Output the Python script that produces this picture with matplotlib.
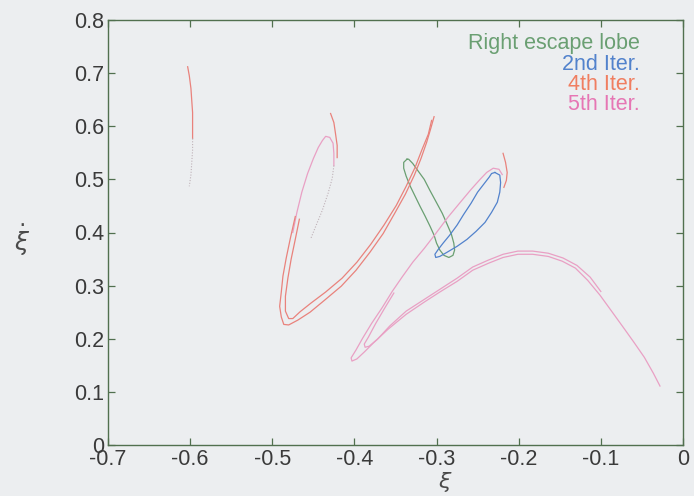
import matplotlib
matplotlib.use("Agg")
import matplotlib.pyplot as plt

# ---------------- data (xi, xi_dot) ----------------
# right escape lobe (closed loop)
lobe_x = [-0.336, -0.340, -0.340, -0.337, -0.332, -0.326, -0.320, -0.314, -0.308,
          -0.303, -0.300, -0.296, -0.291, -0.285, -0.280, -0.278, -0.279, -0.282,
          -0.287, -0.293, -0.301, -0.308, -0.315, -0.323, -0.329, -0.334, -0.336]
lobe_y = [0.538, 0.532, 0.521, 0.506, 0.487, 0.468, 0.449, 0.431, 0.412,
          0.395, 0.380, 0.367, 0.357, 0.353, 0.357, 0.367, 0.380, 0.397,
          0.415, 0.436, 0.459, 0.479, 0.500, 0.517, 0.530, 0.538, 0.538]

# 2nd iterate (closed loop)
iter2_x = [-0.229, -0.223, -0.222, -0.223, -0.226, -0.233, -0.241, -0.252, -0.263,
           -0.275, -0.287, -0.296, -0.301, -0.302, -0.298, -0.292, -0.284, -0.275,
           -0.267, -0.258, -0.250, -0.242, -0.236, -0.233, -0.229]
iter2_y = [0.513, 0.508, 0.494, 0.476, 0.457, 0.438, 0.419, 0.402, 0.387,
           0.374, 0.363, 0.355, 0.353, 0.359, 0.368, 0.380, 0.395, 0.414,
           0.434, 0.455, 0.476, 0.492, 0.504, 0.511, 0.513]

# 4th iterate pieces
iter4_far_x = [-0.603, -0.601, -0.599, -0.598, -0.597, -0.597, -0.597]
iter4_far_y = [0.712, 0.695, 0.671, 0.648, 0.626, 0.602, 0.577]
iter4_far_tail_x = [-0.597, -0.597, -0.598, -0.599, -0.601]
iter4_far_tail_y = [0.577, 0.555, 0.532, 0.509, 0.487]

iter4_outer_x = [-0.303, -0.307, -0.312, -0.319, -0.327, -0.338, -0.351, -0.365, -0.381,
                 -0.398, -0.416, -0.436, -0.454, -0.469, -0.480, -0.486, -0.489, -0.491,
                 -0.489, -0.487, -0.483, -0.478, -0.472]
iter4_outer_y = [0.618, 0.596, 0.570, 0.539, 0.508, 0.472, 0.436, 0.398, 0.363,
                 0.329, 0.299, 0.273, 0.250, 0.235, 0.226, 0.227, 0.241, 0.261,
                 0.288, 0.318, 0.352, 0.389, 0.430]

iter4_inner_x = [-0.306, -0.310, -0.318, -0.326, -0.337, -0.349, -0.364, -0.380, -0.397,
                 -0.415, -0.435, -0.453, -0.466, -0.475, -0.480, -0.484, -0.484, -0.481,
                 -0.477, -0.472, -0.467]
iter4_inner_y = [0.611, 0.585, 0.555, 0.523, 0.487, 0.451, 0.414, 0.378, 0.344,
                 0.314, 0.288, 0.267, 0.251, 0.238, 0.238, 0.252, 0.280, 0.314,
                 0.350, 0.387, 0.425]

iter4_hook_x = [-0.429, -0.425, -0.423, -0.421, -0.421]
iter4_hook_y = [0.624, 0.607, 0.586, 0.564, 0.541]

iter4_tip_x = [-0.219, -0.216, -0.214, -0.215, -0.218]
iter4_tip_y = [0.549, 0.532, 0.513, 0.498, 0.485]

# 5th iterate pieces
iter5_loop_x = [-0.475, -0.470, -0.464, -0.457, -0.450, -0.444, -0.439, -0.435,
                -0.430, -0.426, -0.425, -0.425]
iter5_loop_y = [0.400, 0.438, 0.476, 0.511, 0.539, 0.560, 0.573, 0.581,
                0.579, 0.568, 0.549, 0.526]
iter5_loop_tail_x = [-0.425, -0.427, -0.432, -0.439, -0.447, -0.453]
iter5_loop_tail_y = [0.526, 0.502, 0.474, 0.442, 0.412, 0.389]

iter5_outer_x = [-0.220, -0.224, -0.231, -0.239, -0.247, -0.258, -0.271, -0.286, -0.301,
                 -0.315, -0.329, -0.342, -0.354, -0.366, -0.379, -0.390, -0.398, -0.404,
                 -0.403, -0.397, -0.388, -0.377, -0.359, -0.337, -0.315, -0.296, -0.275,
                 -0.256, -0.237, -0.219, -0.201, -0.183, -0.164, -0.147, -0.131, -0.116,
                 -0.101, -0.086, -0.072, -0.060, -0.047, -0.036, -0.028]
iter5_outer_y = [0.509, 0.519, 0.521, 0.513, 0.500, 0.481, 0.457, 0.429, 0.398,
                 0.370, 0.344, 0.316, 0.289, 0.259, 0.229, 0.201, 0.179, 0.164,
                 0.158, 0.162, 0.175, 0.192, 0.218, 0.246, 0.269, 0.288, 0.308,
                 0.329, 0.342, 0.353, 0.359, 0.359, 0.355, 0.346, 0.333, 0.310,
                 0.282, 0.250, 0.220, 0.194, 0.165, 0.135, 0.111]

iter5_inner_x = [-0.352, -0.363, -0.374, -0.383, -0.388, -0.387, -0.382, -0.372, -0.357,
                 -0.337, -0.315, -0.296, -0.275, -0.256, -0.237, -0.219, -0.201, -0.183,
                 -0.164, -0.146, -0.129, -0.113, -0.100]
iter5_inner_y = [0.286, 0.258, 0.229, 0.203, 0.190, 0.184, 0.186, 0.199, 0.224,
                 0.252, 0.274, 0.293, 0.314, 0.335, 0.348, 0.359, 0.365, 0.365,
                 0.361, 0.352, 0.338, 0.316, 0.289]

legend_labels = ["Right escape lobe", "2nd Iter.", "4th Iter.", "5th Iter."]

x_ticks = [-0.7, -0.6, -0.5, -0.4, -0.3, -0.2, -0.1, 0.0]
x_tick_labels = ["-0.7", "-0.6", "-0.5", "-0.4", "-0.3", "-0.2", "-0.1", "0"]
y_ticks = [0.0, 0.1, 0.2, 0.3, 0.4, 0.5, 0.6, 0.7, 0.8]
y_tick_labels = ["0", "0.1", "0.2", "0.3", "0.4", "0.5", "0.6", "0.7", "0.8"]

# ---------------- style ----------------
C_LOBE = "#6a9f72"
C_IT2 = "#5282cc"
C_IT4 = "#e9827c"
C_IT5 = "#e9a0c4"
C_FAINT = "#bfb2b8"
BG = "#eceef0"
AXIS = "#51704f"

plt.rcParams["font.family"] = ["Liberation Sans", "DejaVu Sans"]

fig = plt.figure(figsize=(6.94, 4.96), dpi=100, facecolor=BG)
ax = fig.add_axes([0.1556, 0.1028, 0.8285, 0.8569])
ax.set_facecolor(BG)

lw = 0.9
ax.plot(lobe_x, lobe_y, color=C_LOBE, lw=lw)
ax.plot(iter2_x, iter2_y, color=C_IT2, lw=lw)

ax.plot(iter5_outer_x, iter5_outer_y, color=C_IT5, lw=lw)
ax.plot(iter5_inner_x, iter5_inner_y, color=C_IT5, lw=lw)
ax.plot(iter5_loop_x, iter5_loop_y, color=C_IT5, lw=lw)
ax.plot(iter5_loop_tail_x, iter5_loop_tail_y, color=C_FAINT, lw=0.8,
        ls=(0, (1, 1.5)))

ax.plot(iter4_outer_x, iter4_outer_y, color=C_IT4, lw=lw)
ax.plot(iter4_inner_x, iter4_inner_y, color=C_IT4, lw=lw)
ax.plot(iter4_hook_x, iter4_hook_y, color=C_IT4, lw=lw)
ax.plot(iter4_tip_x, iter4_tip_y, color=C_IT4, lw=lw)
ax.plot(iter4_far_x, iter4_far_y, color=C_IT4, lw=lw)
ax.plot(iter4_far_tail_x, iter4_far_tail_y, color=C_FAINT, lw=0.8,
        ls=(0, (1, 1.5)))

ax.set_xlim(-0.7, 0.0)
ax.set_ylim(0.0, 0.8)
ax.set_xticks(x_ticks)
ax.set_xticklabels(x_tick_labels)
ax.set_yticks(y_ticks)
ax.set_yticklabels(y_tick_labels)

for sp in ax.spines.values():
    sp.set_color(AXIS)
    sp.set_linewidth(1.0)
ax.tick_params(direction="in", length=5, width=0.9, color=AXIS,
               top=True, right=True, labelsize=15.5, labelcolor="#3a3a3a", pad=3)

ax.set_xlabel(r"$\xi$", fontsize=16, color="#4a4a4a", va="center")
ax.xaxis.set_label_coords(0.586, -0.087)
ax.set_ylabel(r"$\dot{\xi}$", fontsize=18, color="#4a4a4a", rotation=0,
              va="center", ha="center")
ax.yaxis.set_label_coords(-0.150, 0.482)

legend_colors = [C_LOBE, C_IT2, "#f07e60", "#e676b4"]
legend_y = [0.944, 0.896, 0.849, 0.801]
for label, col, yy in zip(legend_labels, legend_colors, legend_y):
    ax.text(0.925, yy, label, transform=ax.transAxes, ha="right", va="center",
            fontsize=15.5, color=col)

fig.savefig("out.png", dpi=100, facecolor=BG)
